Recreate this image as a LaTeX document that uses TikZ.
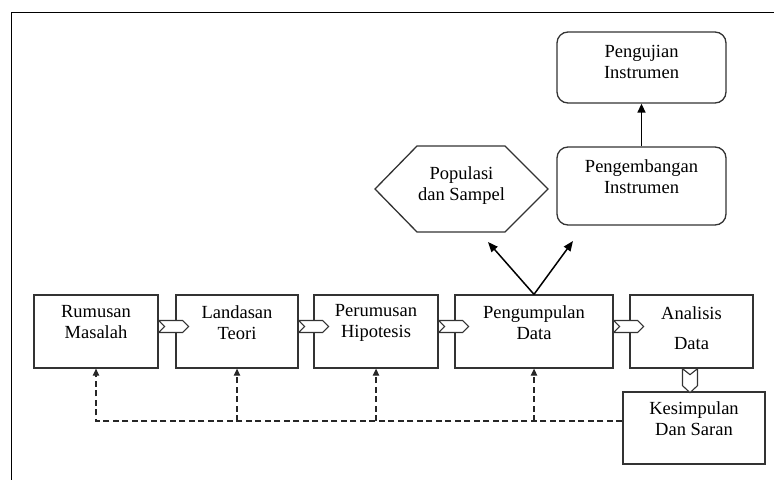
\documentclass[tikz,border=0pt]{standalone}
\usepackage{fontspec}
\setmainfont{Liberation Serif}
\usetikzlibrary{arrows.meta,calc}

% block arrows joining the steps of the flow
\newcommand{\hchev}[1]{\path[chev] (#1) ++(0,-6) -- ++(24,0) -- ++(6,6) -- ++(-6,6) -- ++(-24,0) -- ++(6,-6) -- cycle;}

\begin{document}
\begin{tikzpicture}[x=1pt,y=-1pt,
  box/.style={draw=black!80, line width=1.3pt, fill=white, inner sep=0pt},
  rbox/.style={box, rounded corners=11pt},
  lbl/.style={align=center, inner sep=0pt, font=\fontsize{18.5}{21}\selectfont},
  chev/.style={draw=black!80, line width=1.1pt, fill=white, line join=miter},
  fb/.style={draw=black!85, line width=1.3pt, dash pattern=on 6pt off 3.5pt,
             -{Triangle[length=7pt,width=6.5pt]}},
  link/.style={draw=black, line width=1.5pt, -{Triangle[length=10pt,width=8pt]}}]

\useasboundingbox (0,0) rectangle (774,480);

% frame
\draw[line width=1pt] (774,12) -- (11.5,12) -- (11.5,480);

% main flow
\node[box, minimum width=124pt, minimum height=73pt] (rm) at (96,331.5) {};
\node[box, minimum width=122pt, minimum height=73pt] (ld) at (237,331.5) {};
\node[box, minimum width=124pt, minimum height=73pt] (ph) at (376,331.5) {};
\node[box, minimum width=158pt, minimum height=73pt] (pd) at (534,331.5) {};
\node[box, minimum width=123pt, minimum height=73pt] (ad) at (691.5,331.5) {};
\node[box, minimum width=142pt, minimum height=72pt] (ks) at (694,428) {};

% instrument branch
\node[rbox, minimum width=169pt, minimum height=78pt] (pe) at (641.5,186) {};
\node[rbox, minimum width=169pt, minimum height=71pt] (pj) at (641.5,67.5) {};

% population and sample
\coordinate (popC) at (461.5,189);
\draw[box] (popC) ++(-86.5,0) -- ++(42,-43) -- ++(88,0) -- ++(43,43)
  -- ++(-43,43) -- ++(-88,0) -- cycle;

% block arrows
\hchev{$(rm.east)+(0,-5)$}
\hchev{$(ld.east)+(0,-5)$}
\hchev{$(ph.east)+(0,-5)$}
\hchev{$(pd.east)+(0,-5)$}
\path[chev] (ad.south) ++(-9,0) -- ++(7.5,6) -- ++(7.5,-6) -- ++(0,17)
  -- ++(-7.5,7) -- ++(-7.5,-7) -- cycle;

% labels
\node[lbl] (rmT) at ($(rm.center)+(0,-9)$) {Rumusan\\Masalah};
\node[lbl] (ldT) at ($(ld.center)+(0,-9)$) {Landasan\\Teori};
\node[lbl] (phT) at ($(ph.center)+(0,-9)$) {Perumusan\\Hipotesis};
\node[lbl] (pdT) at ($(pd.center)+(0,-9)$) {Pengumpulan\\Data};
\node[lbl] (adT) at ($(ad.center)+(0,-3.5)$) {Analisis\\[9pt]Data};
\node[lbl] (ksT) at ($(ks.center)+(0,-9)$) {Kesimpulan\\Dan Saran};
\node[lbl] (peT) at ($(pe.center)+(0,-9.5)$) {Pengembangan\\Instrumen};
\node[lbl] (pjT) at ($(pj.center)+(0,-6)$) {Pengujian\\Instrumen};
\node[lbl] (popT) at ($(popC)+(0,-3.5)$) {Populasi\\dan Sampel};

% data collection feeds population and instruments
\coordinate (popIn) at (488,242);
\coordinate (insIn) at (573,241);
\draw[link] (pd.north) -- (popIn);
\draw[link] (pd.north) -- (insIn);
\draw[draw=black, line width=1.4pt, -{Triangle[length=9pt,width=8pt]}] (pe.north) -- (pj.south);

% feedback from conclusions
\coordinate (fb) at (94,421);
\draw[fb] (ks.west |- fb) -| (rm.south);
\draw[fb] (ld.south |- fb) -- (ld.south);
\draw[fb] (ph.south |- fb) -- (ph.south);
\draw[fb] (pd.south |- fb) -- (pd.south);

\end{tikzpicture}
\end{document}
